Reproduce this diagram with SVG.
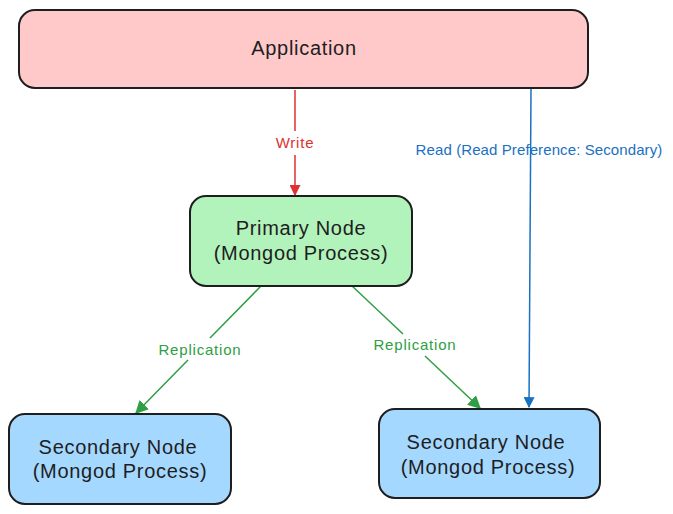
<svg xmlns="http://www.w3.org/2000/svg" width="673" height="514" viewBox="0 0 673 514">
<style>
.box{stroke:#1e1e1e;stroke-width:2}
.t{font-family:"Liberation Sans",Arial,sans-serif;font-size:20px;letter-spacing:0.7px;fill:#1e1e1e;text-anchor:middle}
.l{font-family:"Liberation Sans",Arial,sans-serif;font-size:15px;letter-spacing:0.8px;text-anchor:middle}
.c{fill:none;stroke-width:1.5}
</style>
<defs>
<marker id="ar" viewBox="0 0 10 10" refX="9" refY="5" markerWidth="11" markerHeight="11" markerUnits="userSpaceOnUse" orient="auto"><path d="M0,0 L10,5 L0,10 z" fill="#e03131"/></marker>
<marker id="ab" viewBox="0 0 10 10" refX="9" refY="5" markerWidth="11" markerHeight="11" markerUnits="userSpaceOnUse" orient="auto"><path d="M0,0 L10,5 L0,10 z" fill="#1971c2"/></marker>
<marker id="ag" viewBox="0 0 10 10" refX="9" refY="5" markerWidth="13" markerHeight="13" markerUnits="userSpaceOnUse" orient="auto"><path d="M0,0 L10,5 L0,10 z" fill="#2f9e44"/></marker>
</defs>
<g id="connectors">
<path class="c" stroke="#e03131" d="M295,90 L295,131"/>
<path class="c" stroke="#e03131" d="M295,155 L295,195" marker-end="url(#ar)"/>
<text class="l" x="295" y="148" fill="#e03131">Write</text>
<path class="c" stroke="#1971c2" d="M531,89 L529,407" marker-end="url(#ab)"/>
<text class="l" x="539" y="155" fill="#1971c2" style="letter-spacing:0.1px">Read (Read Preference: Secondary)</text>
<path class="c" stroke="#2f9e44" d="M262,285 L210,338"/>
<path class="c" stroke="#2f9e44" d="M188,360 L136,413" marker-end="url(#ag)"/>
<text class="l" x="200" y="355" fill="#2f9e44">Replication</text>
<path class="c" stroke="#2f9e44" d="M351,285 L403,334"/>
<path class="c" stroke="#2f9e44" d="M425,356 L480,408" marker-end="url(#ag)"/>
<text class="l" x="415" y="350" fill="#2f9e44">Replication</text>
</g>
<g id="application">
<rect class="box" x="19" y="10" width="569" height="78" rx="16" fill="#ffc9c9"/>
<text class="t" x="304" y="55">Application</text>
</g>
<g id="primary">
<rect class="box" x="190" y="196" width="222" height="90" rx="16" fill="#b2f2bb"/>
<text class="t" x="301" y="235">Primary Node</text>
<text class="t" x="301" y="260">(Mongod Process)</text>
</g>
<g id="secondary1">
<rect class="box" x="9" y="414" width="222" height="90" rx="16" fill="#a5d8ff"/>
<text class="t" x="118" y="454">Secondary Node</text>
<text class="t" x="120" y="478">(Mongod Process)</text>
</g>
<g id="secondary2">
<rect class="box" x="379" y="409" width="221" height="89" rx="16" fill="#a5d8ff"/>
<text class="t" x="486" y="449">Secondary Node</text>
<text class="t" x="488" y="474">(Mongod Process)</text>
</g>
</svg>
